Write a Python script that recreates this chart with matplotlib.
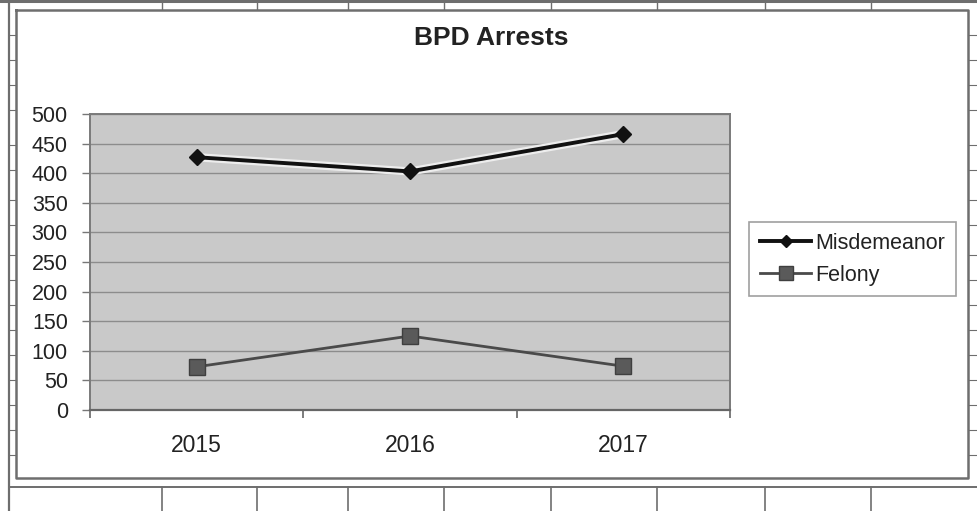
import matplotlib
matplotlib.use('Agg')
from matplotlib import pyplot as plt
from matplotlib.lines import Line2D

years = ['2015', '2016', '2017']
misdemeanor = [427, 403, 466]
felony = [73, 125, 74]
y_ticks = [0, 50, 100, 150, 200, 250, 300, 350, 400, 450, 500]

W, H = 977, 511
plt.rcParams['font.family'] = ['Liberation Sans', 'DejaVu Sans']
text_c = '#222222'


def px_line(fig, xs, ys, **kw):
    # draw a line given in pixel coords (top-left origin)
    fig.add_artist(Line2D([x / W for x in xs], [1 - y / H for y in ys],
                          transform=fig.transFigure, **kw))


fig = plt.figure(figsize=(W / 100, H / 100), dpi=100)
fig.patch.set_facecolor('white')

# spreadsheet cell lines around the chart
edge = '#6e6e6e'
px_line(fig, [0, W], [1, 1], color=edge, lw=2.2)
px_line(fig, [9, 9], [0, H], color=edge, lw=1.6)
px_line(fig, [10, W], [487, 487], color=edge, lw=1.4)
for xc in [162, 257, 348, 444, 551, 657, 765, 871]:
    px_line(fig, [xc, xc], [487, H], color=edge, lw=1.2)
    px_line(fig, [xc, xc], [0, 9], color=edge, lw=1.0)
for yc in [35, 60, 85, 110, 145, 170, 200, 225, 255, 280, 305, 330, 355, 380, 405, 430, 455]:
    px_line(fig, [968, W], [yc, yc], color=edge, lw=0.8)
    px_line(fig, [9, 16], [yc, yc], color=edge, lw=0.8)
# chart border
px_line(fig, [16, 968, 968, 16, 16], [10, 10, 478, 478, 10], color=edge, lw=1.8)

ax = fig.add_axes([90 / W, 1 - 410 / H, 640 / W, 296 / H])
ax.set_facecolor('#c9c9c9')
x = list(range(len(years)))

# light halo under the black line (scan look)
ax.plot(x, misdemeanor, color='#ededed', lw=6, zorder=3, solid_capstyle='round')
ax.plot(x, misdemeanor, color='#111111', lw=2.8, marker='D', ms=8,
        mfc='#111111', mec='#111111', label='Misdemeanor', zorder=4)
ax.plot(x, felony, color='#4a4a4a', lw=2.0, marker='s', ms=12,
        mfc='#5a5a5a', mec='#3f3f3f', mew=1.0, label='Felony', zorder=4)

ax.set_xlim(-0.5, 2.5)
ax.set_ylim(0, 500)
ax.set_yticks(y_ticks)
ax.set_yticklabels([str(v) for v in y_ticks])
ax.yaxis.grid(True, color='#8c8c8c', lw=1.0)
ax.set_axisbelow(True)
ax.set_xticks(x)
ax.set_xticklabels(years)
ax.set_xticks([-0.5, 0.5, 1.5, 2.5], minor=True)
ax.tick_params(axis='x', which='major', length=0, pad=17, labelsize=16.5, labelcolor=text_c)
ax.tick_params(axis='x', which='minor', length=6, width=1.2, color='#666666')
ax.tick_params(axis='y', length=6, width=1.0, color='#777777', pad=10,
               labelsize=15.5, labelcolor=text_c)
for side in ['top', 'right', 'left']:
    ax.spines[side].set_color('#7a7a7a')
    ax.spines[side].set_linewidth(1.4)
ax.spines['bottom'].set_color('#666666')
ax.spines['bottom'].set_linewidth(1.6)

fig.text(491 / W, 1 - 38 / H, 'BPD Arrests', ha='center', va='center',
         fontsize=19, fontweight='bold', color=text_c)

leg = fig.legend(loc='upper left', bbox_to_anchor=(749 / W, 1 - 222 / H),
                 frameon=True, fancybox=False, fontsize=15.5, handlelength=2.4,
                 handletextpad=0.2, borderpad=0.5, labelspacing=0.5,
                 borderaxespad=0, markerscale=0.8)
leg.get_frame().set_edgecolor('#888888')
leg.get_frame().set_linewidth(1.2)
for t in leg.get_texts():
    t.set_color(text_c)

fig.savefig('out.png', dpi=100, facecolor='white')
